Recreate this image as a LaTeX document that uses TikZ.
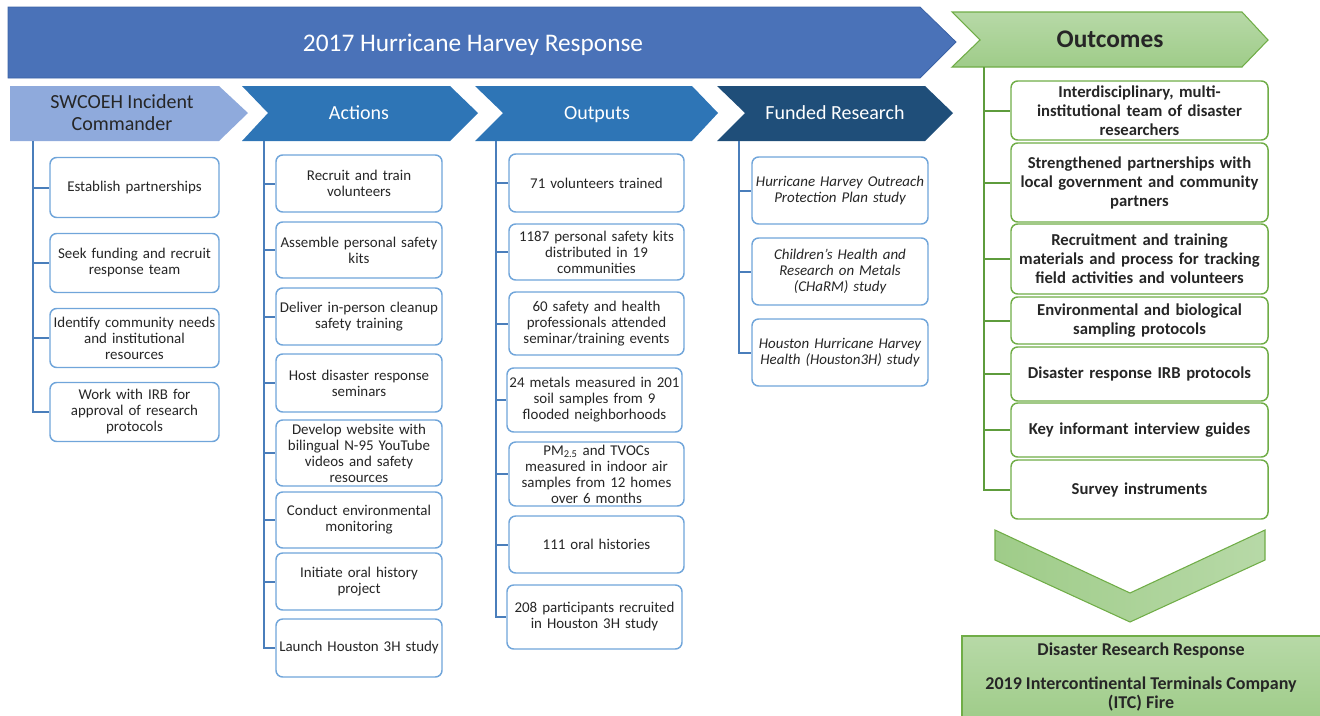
\documentclass[tikz,border=0pt]{standalone}
\usepackage{fontspec}
\setmainfont{Carlito}
\usetikzlibrary{positioning}

\definecolor{bannerblue}{HTML}{4A72B8}
\definecolor{bannerline}{HTML}{3B62A6}
\definecolor{swcblue}{HTML}{8FAADC}
\definecolor{midblue}{HTML}{2E75B6}
\definecolor{darkblue}{HTML}{1F4E79}
\definecolor{stemblue}{HTML}{4A7EBB}
\definecolor{boxblue}{HTML}{70A5DA}
\definecolor{greenline}{HTML}{70AD47}
\definecolor{stemgreen}{HTML}{5E9C3C}
\definecolor{greentop}{HTML}{B7D9A7}
\definecolor{greenbot}{HTML}{9FCC89}
\definecolor{inktext}{HTML}{262626}

\tikzset{
  box/.style={draw=boxblue, line width=1.1pt, rounded corners=5pt, fill=white,
    align=center, inner xsep=1pt, inner ysep=0pt, text=inktext,
    font=\fontsize{11.2}{12}\selectfont},
  resbox/.style={box, font=\itshape\fontsize{11.2}{12}\selectfont},
  goalbox/.style={box, draw=greenline, font=\bfseries\fontsize{12.5}{14.25}\selectfont},
  colA/.style={text width=124.75pt, minimum width=126.75pt},
  colB/.style={text width=122.5pt, minimum width=124.5pt},
  colC/.style={text width=129.25pt, minimum width=131.25pt},
  colD/.style={text width=130pt, minimum width=132pt},
  colE/.style={text width=190.75pt, minimum width=192.75pt},
  stem/.style={draw=stemblue, line width=1.5pt},
  gstem/.style={draw=stemgreen, line width=1.5pt},
  hdr/.style={text=white, align=center, font=\fontsize{15}{16.5}\selectfont},
}

\begin{document}
\begin{tikzpicture}[x=0.75pt,y=-0.75pt]
\useasboundingbox (0,0) rectangle (1320,715);

% banner and header chevrons
\draw[fill=bannerblue, draw=bannerline, line width=0.6pt]
  (8,7) -- (920,7) -- (956,42) -- (920,78) -- (8,78) -- cycle;
\node[text=white, anchor=base, font=\fontsize{19}{22}\selectfont] (title) at (473,51) {2017 Hurricane Harvey Response};

\fill[swcblue] (10,86) -- (219,86) -- (248,113) -- (219,141) -- (10,141) -- cycle;
\fill[midblue] (242,86) -- (450,86) -- (478,113) -- (450,141) -- (242,141) -- (268,113) -- cycle;
\fill[midblue] (475,86) -- (692,86) -- (718,113) -- (692,141) -- (475,141) -- (503,113) -- cycle;
\fill[darkblue] (717,86) -- (925,86) -- (953,113) -- (925,141) -- (717,141) -- (745,113) -- cycle;
\draw[top color=greentop, bottom color=greenbot, draw=greenline, line width=0.8pt]
  (952,12) -- (1242,12) -- (1268,40) -- (1242,67) -- (952,67) -- (980,40) -- cycle;

\node[hdr, text=inktext] (hswc) at (122,113) {SWCOEH Incident\\Commander};
\node[hdr, anchor=base] (hact) at (359,119) {Actions};
\node[hdr, anchor=base] (hout) at (597,119) {Outputs};
\node[hdr, anchor=base] (hfund) at (835,119) {Funded Research};
\node[text=inktext, anchor=base, font=\bfseries\fontsize{19}{22}\selectfont] (hgoal) at (1110,47) {Outcomes};

\coordinate (t1) at (33,141);
\coordinate (t2) at (264,141);
\coordinate (t3) at (496,141);
\coordinate (t4) at (739,141);
\coordinate (t5) at (984,67);

% incident commander
\node[box, colA, minimum height=45pt] (e1) at (134.5,187.5) {Establish partnerships};
\node[box, colA, minimum height=44.25pt] (e2) at (134.5,263) {Seek funding and recruit\\response team};
\node[box, colA, minimum height=44.25pt] (e3) at (134.5,338) {Identify community needs\\and institutional\\resources};
\node[box, colA, minimum height=44.25pt] (e4) at (134.5,412) {Work with IRB for\\approval of research\\protocols};

% actions
\node[box, colB, minimum height=42.75pt] (a1) at (359,183.5) {Recruit and train\\volunteers};
\node[box, colB, minimum height=42pt] (a2) at (359,250) {Assemble personal safety\\kits};
\node[box, colB, minimum height=42.75pt] (a3) at (359,316.5) {Deliver in-person cleanup\\safety training};
\node[box, colB, minimum height=43.5pt] (a4) at (359,383) {Host disaster response\\seminars};
\node[box, colB, minimum height=49.5pt] (a5) at (359,453) {Develop website with\\bilingual N-95 YouTube\\videos and safety\\resources};
\node[box, colB, minimum height=42pt] (a6) at (359,520) {Conduct environmental\\monitoring};
\node[box, colB, minimum height=42.75pt] (a7) at (359,581.5) {Initiate oral history\\project};
\node[box, colB, minimum height=43.5pt] (a8) at (359,648) {Launch Houston 3H study};

% outputs
\node[box, colC, minimum height=43.5pt] (o1) at (596.5,183) {71 volunteers trained};
\node[box, colC, minimum height=42pt] (o2) at (596.5,252) {1187 personal safety kits\\distributed in 19\\communities};
\node[box, colC, minimum height=47.25pt] (o3) at (596.5,323.5) {60 safety and health\\professionals attended\\seminar/training events};
\node[box, colC, minimum height=48pt] (o4) at (594.5,400) {24 metals measured in 201\\soil samples from 9\\flooded neighborhoods};
\node[box, colC, minimum height=48pt] (o5) at (596.5,474) {PM\textsubscript{2.5} and TVOCs\\measured in indoor air\\samples from 12 homes\\over 6 months};
\node[box, colC, minimum height=42.75pt] (o6) at (596.5,544.5) {111 oral histories};
\node[box, colC, minimum height=48pt] (o7) at (594.5,617) {208 participants recruited\\in Houston 3H study};

% funded research
\node[resbox, colD, minimum height=50.25pt] (f1) at (840,190.5) {Hurricane Harvey Outreach\\Protection Plan study};
\node[resbox, colD, minimum height=50.25pt] (f2) at (840,271.5) {Children’s Health and\\Research on Metals\\(CHaRM) study};
\node[resbox, colD, minimum height=50.25pt] (f3) at (840,352.5) {Houston Hurricane Harvey\\Health (Houston3H) study};

% outcomes
\node[goalbox, colE, minimum height=44.25pt] (r1) at (1139.5,110.5) {Interdisciplinary, multi-\\institutional team of disaster\\researchers};
\node[goalbox, colE, minimum height=59.25pt] (r2) at (1139.5,182.5) {Strengthened partnerships with\\local government and community\\partners};
\node[goalbox, colE, minimum height=52.5pt] (r3) at (1139.5,259) {Recruitment and training\\materials and process for tracking\\field activities and volunteers};
\node[goalbox, colE, minimum height=35.25pt] (r4) at (1139.5,320.5) {Environmental and biological\\sampling protocols};
\node[goalbox, colE, minimum height=40.5pt] (r5) at (1139.5,374) {Disaster response IRB protocols};
\node[goalbox, colE, minimum height=40.5pt] (r6) at (1139.5,430) {Key informant interview guides};
\node[goalbox, colE, minimum height=44.25pt] (r7) at (1139.5,489.5) {Survey instruments};

% stems
\foreach \n in {e1,e2,e3,e4} \draw[stem] (t1) |- (\n.west);
\foreach \n in {a1,a2,a3,a4,a5,a6,a7,a8} \draw[stem] (t2) |- (\n.west);
\foreach \n in {o1,o2,o3,o4,o5,o6,o7} \draw[stem] (t3) |- (\n.west);
\foreach \n in {f1,f2,f3} \draw[stem] (t4) |- (\n.west);
\foreach \n in {r1,r2,r3,r4,r5,r6,r7} \draw[gstem] (t5) |- (\n.west);

% next response
\draw[left color=greenbot, right color=greentop, draw=greenline, line width=0.8pt]
  (995,530) -- (1130,593) -- (1265,530) -- (1265,560) -- (1130,622) -- (995,560) -- cycle;
\draw[top color=greentop, bottom color=greenbot, draw=greenline, line width=0.8pt]
  (962,636) rectangle (1324,720);
\node[text=inktext, align=center, font={\bfseries\fontsize{13.5}{13}\selectfont}]
  (nextdrr) at (1141,677) {Disaster Research Response\\[13pt]2019 Intercontinental Terminals Company\\[1pt](ITC) Fire};

\end{tikzpicture}
\end{document}
